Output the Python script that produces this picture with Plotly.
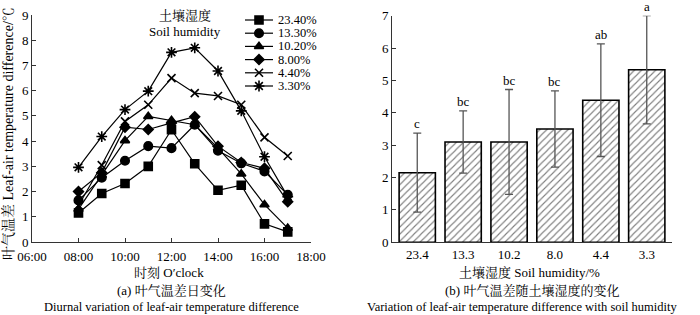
import plotly.graph_objects as go

# ---------------- data ----------------
hours = [8, 9, 10, 11, 12, 13, 14, 15, 16, 17]
series_names = ["23.40%", "13.30%", "10.20%", "8.00%", "4.40%", "3.30%"]
h_23_4 = [1.15, 1.92, 2.32, 3.0, 4.45, 3.1, 2.05, 2.25, 0.72, 0.4]
h_13_3 = [1.65, 2.55, 3.22, 3.8, 3.72, 4.65, 3.62, 3.12, 2.8, 1.87]
h_10_2 = [1.3, 2.65, 4.02, 4.98, 4.82, 4.65, 3.72, 2.7, 1.48, 0.55]
h_8_0 = [2.0, 2.75, 4.55, 4.46, 4.72, 4.97, 3.8, 3.15, 2.92, 1.6]
h_4_4 = [1.45, 3.05, 4.78, 5.44, 6.5, 5.9, 5.79, 5.44, 4.15, 3.41]
h_3_3 = [2.96, 4.18, 5.25, 5.98, 7.52, 7.7, 6.78, 5.2, 3.38, 1.8]

x_ticks = [6, 8, 10, 12, 14, 16, 18]
x_ticklabels = ["06:00", "08:00", "10:00", "12:00", "14:00", "16:00", "18:00"]

humidity_cats = ["23.4", "13.3", "10.2", "8.0", "4.4", "3.3"]
mean_diff = [2.15, 3.1, 3.1, 3.5, 4.39, 5.33]
err_diff = [1.22, 0.96, 1.62, 1.18, 1.74, 1.67]
sig_letters = ["c", "bc", "bc", "bc", "ab", "a"]

# ---------------- style ----------------
W, H = 700, 315
FONT = "Liberation Serif, Noto Serif CJK SC, Noto Sans CJK SC, serif"
AX = "#333333"

def px(x):
    return x / W

def py(y):
    return 1 - y / H

symbols = ["square", "circle", "triangle-up", "diamond", "x-thin-open", "asterisk-open"]
sizes = [8, 8.5, 8, 7.5, 8, 9]
all_series = [h_23_4, h_13_3, h_10_2, h_8_0, h_4_4, h_3_3]

fig = go.Figure()

for name, vals, sym, sz in zip(series_names, all_series, symbols, sizes):
    fig.add_trace(go.Scatter(
        x=hours, y=vals, mode="lines+markers", name=name,
        line=dict(color="black", width=1.2),
        marker=dict(symbol=sym, size=sz, color="black",
                    line=dict(color="black", width=1.6)),
        xaxis="x", yaxis="y", showlegend=False, hoverinfo="skip",
    ))

fig.add_trace(go.Bar(
    x=list(range(len(humidity_cats))), y=mean_diff,
    marker=dict(color="white", line=dict(color="black", width=1.6),
                pattern=dict(shape="/", fgcolor="black", bgcolor="white",
                             size=5, solidity=0.22)),
    error_y=dict(type="data", array=err_diff, color="#555555",
                 thickness=1.3, width=4),
    width=0.79, xaxis="x2", yaxis="y2", showlegend=False, hoverinfo="skip",
))

# manual legend drawn on an overlay pixel axis
leg_y0, leg_dy = 20, 13.2
for i, (name, sym, sz) in enumerate(zip(series_names, symbols, sizes)):
    yy = leg_y0 + i * leg_dy
    fig.add_trace(go.Scatter(
        x=[245, 273], y=[yy, yy], mode="lines",
        line=dict(color="black", width=1.2),
        xaxis="x3", yaxis="y3", showlegend=False, hoverinfo="skip"))
    fig.add_trace(go.Scatter(
        x=[259], y=[yy], mode="markers",
        marker=dict(symbol=sym, size=sz, color="black",
                    line=dict(color="black", width=1.6)),
        xaxis="x3", yaxis="y3", showlegend=False, hoverinfo="skip"))
    fig.add_annotation(x=276, y=yy, xref="x3", yref="y3", text=name,
                       showarrow=False, xanchor="left", yanchor="middle",
                       font=dict(size=12.5, family=FONT, color="black"))

for i, (letter, m, e) in enumerate(zip(sig_letters, mean_diff, err_diff)):
    fig.add_annotation(x=i, y=m + e, xref="x2", yref="y2", text=letter,
                       showarrow=False, yanchor="bottom", yshift=0,
                       font=dict(size=13, family=FONT, color="black"))

axis_common = dict(showgrid=False, zeroline=False, showline=True, linecolor=AX,
                   linewidth=1, ticks="inside", ticklen=4, tickcolor=AX,
                   tickfont=dict(size=13, family=FONT, color="black"),
                   mirror=False, automargin=False)

fig.update_layout(
    width=W, height=H,
    margin=dict(l=0, r=0, t=0, b=0, autoexpand=False),
    paper_bgcolor="white", plot_bgcolor="rgba(0,0,0,0)",
    font=dict(family=FONT, color="black"),
    xaxis=dict(domain=[px(32), px(311)], range=[6, 18], tickvals=x_ticks,
               ticktext=x_ticklabels, anchor="y", ticklabelstandoff=2,
               **axis_common),
    yaxis=dict(domain=[py(242), py(15)], range=[0, 9], dtick=1, anchor="x",
               **axis_common),
    xaxis2=dict(domain=[px(392), px(672)], range=[-0.55, 5.55],
                tickvals=list(range(len(humidity_cats))), ticktext=humidity_cats,
                anchor="y2", **{**axis_common, "ticks": ""}),
    yaxis2=dict(domain=[py(242.3), py(15.7)], range=[0, 7], dtick=1,
                anchor="x2", **axis_common),
    xaxis3=dict(domain=[0, 1], range=[0, W], visible=False, anchor="y3",
                fixedrange=True, automargin=False),
    yaxis3=dict(domain=[0, 1], range=[H, 0], visible=False, anchor="x3",
                fixedrange=True, automargin=False),
    bargap=0.21,
)

texts = [
    (8, 134, "叶气温差 Leaf-air temperature difference/℃", 14, -90),
    (185, 15, "土壤湿度", 13, 0),
    (185, 32, "Soil humidity", 13, 0),
    (169, 272, "时刻 O′clock", 13, 0),
    (171, 290, "(a) 叶气温差日变化", 13, 0),
    (171, 306.5, "Diurnal variation of leaf-air temperature difference", 12.5, 0),
    (529, 272, "土壤湿度 Soil humidity/%", 13, 0),
    (532, 290, "(b) 叶气温差随土壤湿度的变化", 13, 0),
    (522, 306.5, "Variation of leaf-air temperature difference with soil humidity", 12.5, 0),
]
for x, y, t, s, ang in texts:
    fig.add_annotation(x=px(x), y=py(y), xref="paper", yref="paper", text=t,
                       showarrow=False, xanchor="center", yanchor="middle",
                       textangle=ang, font=dict(size=s, family=FONT, color="black"))

fig.write_html("out.html", config={"displayModeBar": False},
               post_script="document.body.style.margin='0px';")
